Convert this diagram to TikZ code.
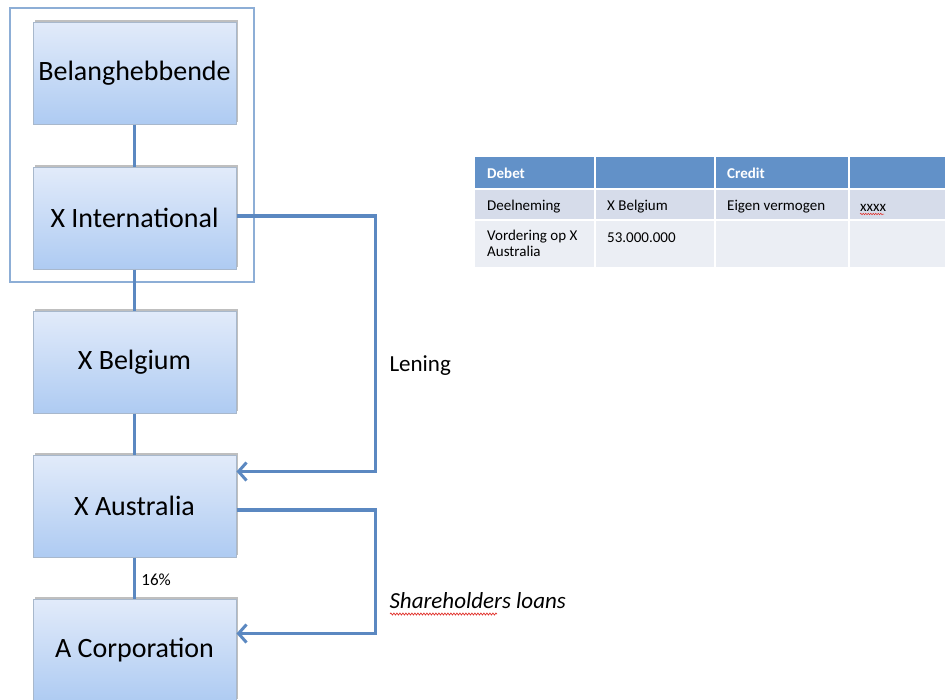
\documentclass[tikz,border=0pt]{standalone}
\usepackage{fontspec}
\setmainfont{Carlito}
\usetikzlibrary{arrows.meta,shadows,decorations.pathmorphing}
\definecolor{boxtop}{HTML}{E2EBFA}
\definecolor{boxbot}{HTML}{AECBF2}
\definecolor{boxline}{HTML}{A8B8CC}
\definecolor{linkblue}{HTML}{5B88C1}
\definecolor{framecol}{HTML}{8DAED6}
\definecolor{headblue}{HTML}{6291C8}
\definecolor{rowone}{HTML}{D6DCEA}
\definecolor{rowtwo}{HTML}{EBEEF4}
\definecolor{spellred}{HTML}{E0302A}
\tikzset{
  entity/.style={draw=boxline, line width=1pt, top color=boxtop, bottom color=boxbot,
    minimum width=203pt, minimum height=102pt, inner sep=0pt,
    font=\fontsize{28}{32}\selectfont,
    drop shadow={shadow xshift=2pt, shadow yshift=2pt, fill=black, opacity=0.25}},
  link/.style={draw=linkblue, line width=3.2pt},
  flow/.style={link, -{Straight Barb[length=8pt,width=18pt,line width=3pt]}},
  tabcell/.style={inner sep=0pt, anchor=west, align=left,
    font=\fontsize{15}{16}\selectfont},
  tabhead/.style={tabcell, text=white, font=\fontsize{15}{16}\selectfont\bfseries},
  wavy/.style={draw=spellred, line width=0.7pt,
    decorate, decoration={snake, amplitude=1pt, segment length=3pt}}
}
\begin{document}
\begin{tikzpicture}[x=1pt, y=-1pt]
\useasboundingbox (0,0) rectangle (945,699);

% frame around the top two entities
\draw[framecol, line width=2.8pt] (10,8) rectangle (254,282);

% entities
\node[entity] (bel)  at (134.5,73)  {Belanghebbende};
\node[entity] (xint) at (134.5,218) {X International};
\node[entity] (xbel) at (134.5,362) {X Belgium};
\node[entity] (xaus) at (134.5,506) {X Australia};
\node[entity] (acorp) at (134.5,650) {A Corporation};

% ownership chain
\draw[link] (bel.south) -- (xint.north);
\draw[link] (xint.south) -- (xbel.north);
\draw[link] (xbel.south) -- (xaus.north);
\draw[link] (xaus.south) -- node[right, xshift=2pt, yshift=-2pt, font=\fontsize{17}{19}\selectfont] {16\%} (acorp.north);

% loans
\draw[flow] ([yshift=2pt]xint.east) -- ++(139,0) |- ([yshift=-17pt]xaus.north east);
\node[anchor=west, font=\fontsize{23}{26}\selectfont] (lening) at (386,366) {Lening};

\draw[flow] ([yshift=-4pt]xaus.east) -- ++(139,0) |- ([yshift=-35pt]acorp.north east);
\node[anchor=west, font=\fontsize{23}{26}\selectfont\itshape] (sholder) at (386,601) {Shareholders loans};
\draw[wavy] (390,614) -- (497,614);

% journal entry table
\fill[headblue] (475,157) rectangle (594,188);
\fill[headblue] (596,157) rectangle (714,188);
\fill[headblue] (716,157) rectangle (848,188);
\fill[headblue] (850,157) rectangle (945,188);
\fill[rowone] (475,190) rectangle (594,219);
\fill[rowone] (596,190) rectangle (714,219);
\fill[rowone] (716,190) rectangle (848,219);
\fill[rowone] (850,190) rectangle (945,219);
\fill[rowtwo] (475,221) rectangle (594,267);
\fill[rowtwo] (596,221) rectangle (714,267);
\fill[rowtwo] (716,221) rectangle (848,267);
\fill[rowtwo] (850,221) rectangle (945,267);

\node[tabhead] (hdebet) at (487,173) {Debet};
\node[tabhead] (hcredit) at (727,173) {Credit};
\node[tabcell] (c11) at (487,207) {Deelneming};
\node[tabcell] (c12) at (607,207) {X Belgium};
\node[tabcell] (c13) at (727,207) {Eigen vermogen};
\node[tabcell] (c14) at (860,208) {xxxx};
\draw[wavy, line width=0.5pt, decoration={snake, amplitude=0.8pt, segment length=2.5pt}] (860,214) -- (884,214);
\node[tabcell, anchor=north west] (c21) at (487,230) {Vordering op X\\Australia};
\node[tabcell] (c22) at (607,238) {53.000.000};
\end{tikzpicture}
\end{document}
